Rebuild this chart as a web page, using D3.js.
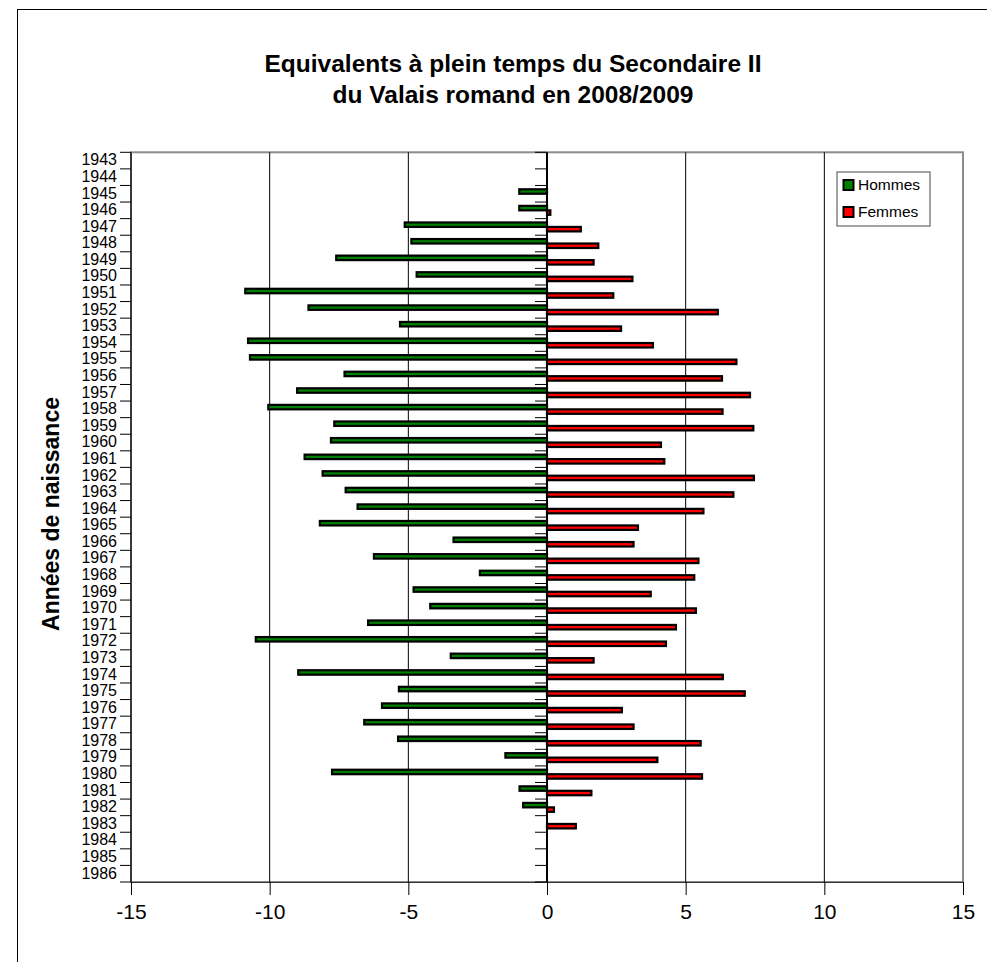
<!DOCTYPE html>
<html>
<head>
<meta charset="utf-8">
<script src="https://cdn.jsdelivr.net/npm/d3@7"></script>
<style>
  html, body { margin: 0; padding: 0; background: #fff; }
  svg { display: block; font-family: "Liberation Sans", Arial, sans-serif; }
</style>
</head>
<body>
<svg id="chart" width="987" height="962"></svg>
<script>
const years = d3.range(1943, 1987).map(String);
const hommes = [null, null, -1.0, -1.0, -5.13, -4.89, -7.60, -4.70, -10.88, -8.60,
  -5.30, -10.78, -10.71, -7.30, -9.01, -10.05, -7.67, -7.79, -8.74, -8.09,
  -7.26, -6.83, -8.19, -3.37, -6.24, -2.42, -4.81, -4.21, -6.45, -10.50,
  -3.47, -8.97, -5.34, -5.95, -6.59, -5.37, -1.50, -7.75, -0.99, -0.86,
  null, null, null, null];
const femmes = [null, null, null, 0.12, 1.22, 1.85, 1.68, 3.08, 2.39, 6.16,
  2.67, 3.82, 6.83, 6.31, 7.32, 6.33, 7.44, 4.11, 4.23, 7.46,
  6.72, 5.64, 3.28, 3.12, 5.46, 5.31, 3.74, 5.37, 4.65, 4.29,
  1.68, 6.34, 7.13, 2.70, 3.12, 5.54, 3.98, 5.59, 1.60, 0.25,
  1.04, null, null, null];
const xTicks = [-15, -10, -5, 0, 5, 10, 15];
const gridValues = [-10, -5, 5, 10];
const seriesNames = ["Hommes", "Femmes"];
const seriesColors = ["#008000", "#FF0000"];
const titleLines = ["Equivalents à plein temps du Secondaire II", "du Valais romand en 2008/2009"];
const yTitle = "Années de naissance";

const svg = d3.select("#chart");
const L = 131, R = 963, T = 152.3, B = 882;

const x = d3.scaleLinear().domain([-15, 15]).range([L, R]);
const y = d3.scaleBand().domain(years).range([T, B]);
const bw = y.bandwidth();
const barH = bw * 0.27;

// outer frame
svg.append("rect").attr("x", 17.5).attr("y", 9.5).attr("width", 1000).attr("height", 1000)
  .attr("fill", "none").attr("stroke", "#000").attr("stroke-width", 1);

// title
svg.append("text").attr("x", 513).attr("y", 71.5).attr("text-anchor", "middle")
  .attr("font-size", 24.5).attr("font-weight", "bold").text(titleLines[0]);
svg.append("text").attr("x", 513).attr("y", 103.3).attr("text-anchor", "middle")
  .attr("font-size", 24.5).attr("font-weight", "bold").text(titleLines[1]);

// plot border
svg.append("rect").attr("x", L).attr("y", T).attr("width", R - L).attr("height", B - T)
  .attr("fill", "none").attr("stroke", "#8c8c8c").attr("stroke-width", 2);
svg.append("line").attr("x1", L).attr("x2", L).attr("y1", T).attr("y2", B)
  .attr("stroke", "#000").attr("stroke-width", 1.2);

// gridlines
svg.append("g").selectAll("line").data(gridValues).join("line")
  .attr("x1", d => x(d)).attr("x2", d => x(d)).attr("y1", T).attr("y2", B)
  .attr("stroke", "#000").attr("stroke-width", 1);

// bottom axis
const xAxis = svg.append("g").attr("transform", `translate(0,${B})`)
  .call(d3.axisBottom(x).tickValues(xTicks).tickSize(13).tickPadding(9).tickFormat(d3.format("d")));
xAxis.select(".domain").attr("stroke", "#333").attr("stroke-width", 1);
xAxis.selectAll(".tick line").attr("stroke", "#000");
xAxis.selectAll("text").attr("font-size", 21).attr("fill", "#000")
  .attr("font-family", "Liberation Sans, Arial, sans-serif").text(d => d < 0 ? "-" + Math.abs(d) : d);

// left axis labels
const yAxis = svg.append("g").attr("transform", `translate(${L},0)`)
  .call(d3.axisLeft(y).tickSize(0).tickPadding(14));
yAxis.select(".domain").remove();
yAxis.selectAll("text").attr("font-size", 16).attr("fill", "#000")
  .attr("font-family", "Liberation Sans, Arial, sans-serif").attr("dy", "0.3em");

const bounds = years.map(d => y(d)).concat([y(years[years.length - 1]) + bw]);
svg.append("g").selectAll("line").data(bounds).join("line")
  .attr("x1", L - 11).attr("x2", L).attr("y1", d => d).attr("y2", d => d)
  .attr("stroke", "#000").attr("stroke-width", 1);

// y title
svg.append("text").attr("transform", `translate(59,${514}) rotate(-90)`)
  .attr("text-anchor", "middle").attr("font-size", 23).attr("font-weight", "bold").text(yTitle);

// bars
const rows = years.map((yr, i) => ({ yr, h: hommes[i], f: femmes[i] }));
const mid = d => y(d.yr) + bw / 2;
svg.append("g").selectAll("rect").data(rows.filter(d => d.h != null)).join("rect")
  .attr("x", d => x(d.h)).attr("width", d => x(0) - x(d.h))
  .attr("y", d => mid(d) - barH).attr("height", barH)
  .attr("fill", seriesColors[0]).attr("stroke", "#000").attr("stroke-width", 2.2);
svg.append("g").selectAll("rect").data(rows.filter(d => d.f != null)).join("rect")
  .attr("x", x(0)).attr("width", d => x(d.f) - x(0))
  .attr("y", d => mid(d)).attr("height", barH)
  .attr("fill", seriesColors[1]).attr("stroke", "#000").attr("stroke-width", 2.2);

// zero axis
svg.append("line").attr("x1", x(0)).attr("x2", x(0)).attr("y1", T).attr("y2", B)
  .attr("stroke", "#000").attr("stroke-width", 2);
svg.append("g").selectAll("line").data(bounds).join("line")
  .attr("x1", x(0) - 12).attr("x2", x(0)).attr("y1", d => d).attr("y2", d => d)
  .attr("stroke", "#000").attr("stroke-width", 1);

// legend
const lg = svg.append("g");
lg.append("rect").attr("x", 837).attr("y", 172).attr("width", 93).attr("height", 54)
  .attr("fill", "#fff").attr("stroke", "#666").attr("stroke-width", 1.2);
seriesNames.forEach((n, i) => {
  const yy = 180 + i * 27;
  lg.append("rect").attr("x", 843.5).attr("y", yy).attr("width", 10).attr("height", 10)
    .attr("fill", seriesColors[i]).attr("stroke", "#000").attr("stroke-width", 2);
  lg.append("text").attr("x", 858).attr("y", yy + 10).attr("font-size", 15.5).text(n);
});
</script>
</body>
</html>
